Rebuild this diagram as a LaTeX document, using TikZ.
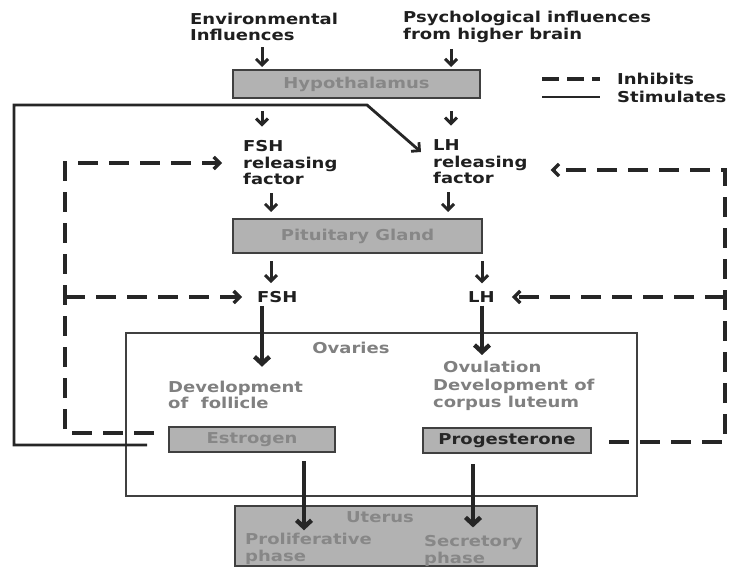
\documentclass[tikz,border=0pt]{standalone}
\usepackage{fontspec}
\setmainfont{DejaVu Sans}[FakeStretch=1.2]
\usetikzlibrary{arrows.meta}

\tikzset{
  lbl/.style={font=\fontsize{15bp}{16.5bp}\selectfont\bfseries, text=black!88,
    inner sep=0pt, align=left, anchor=west},
  pale/.style={lbl, text=black!50},
  organ/.style={draw=black!75, line width=2bp, fill=black!30, text=black!47,
    font=\fontsize{15bp}{16.5bp}\selectfont\bfseries, inner sep=0pt},
  arr/.style={draw=black!85, line width=3bp, -{Straight Barb[length=6bp,width=12bp]}},
  bigarr/.style={draw=black!85, line width=4.4bp, -{Straight Barb[length=7bp,width=15bp]}},
  stim/.style={draw=black!85, line width=2.8bp},
  inhibit/.style={draw=black!85, line width=3.4bp, dash pattern=on 20bp off 11bp},
  tip/.style={-{Straight Barb[length=6bp,width=12bp]}}
}

\begin{document}
\begin{tikzpicture}[x=1bp,y=-1bp]
    \useasboundingbox (0,0) rectangle (745,568);
    % колонки стрелок
    \coordinate (kA) at (262,0);
    \coordinate (kB) at (451,0);
    \coordinate (kC) at (271,0);
    \coordinate (kD) at (448,0);
    \coordinate (kE) at (482,0);
    \coordinate (kF) at (304,0);
    \coordinate (kG) at (473,0);

    % влияния
    \node[lbl] (env) at (190,27) {Environmental\\Influences};
    \node[lbl] (psy) at (403,27) {Psychological influences\\from higher brain};

    % гипоталамус
    \node[organ, minimum width=247bp, minimum height=28bp] (hyp) at (356.5,84) {Hypothalamus};

    % легенда
    \node[lbl] (inh) at (617,79) {Inhibits};
    \node[lbl] (stm) at (617,97) {Stimulates};
    \draw[inhibit, dash pattern=on 17bp off 8bp] ([xshift=-75]inh.west) -- ([xshift=-17]inh.west);
    \draw[stim] ([xshift=-75]stm.west) -- ([xshift=-17]stm.west);

    % рилизинг-факторы
    \node[lbl] (fshrf) at (243,163) {FSH\\releasing\\factor};
    \node[lbl] (lhrf) at (433,162) {LH\\releasing\\factor};

    % гипофиз
    \node[organ, minimum width=249bp, minimum height=34bp] (pit) at (357.5,236) {Pituitary Gland};
    \node[lbl] (fsh) at (257,297) {FSH};
    \node[lbl] (lh) at (468,297) {LH};

    % яичники
    \node[draw=black!75, line width=2bp, minimum width=511bp, minimum height=163bp] (ovr) at (381.5,414.5) {};
    \node[pale, anchor=center] (ovt) at (351,348) {Ovaries};
    \node[pale] (ovu) at (443,367) {Ovulation};
    \node[pale] (devf) at (168,395) {Development\\of\ \ follicle};
    \node[pale] (devc) at (433,395) {Development of\\corpus luteum};
    \node[organ, minimum width=166bp, minimum height=25bp] (est) at (252,439.5) {Estrogen};
    \node[organ, text=black!85, minimum width=168bp, minimum height=25bp] (prg) at (507,440.5) {Progesterone};

    % матка
    \node[organ, minimum width=302bp, minimum height=60bp] (ut) at (386,536) {};
    \node[lbl, text=black!47, anchor=center] (utt) at (380,517) {Uterus};
    \node[lbl, text=black!47] (prol) at (245,549) {Proliferative\\phase};
    \node[lbl, text=black!47] (sec) at (424,551) {Secretory\\phase};

    % стрелки вниз
    \draw[arr, shorten <=6bp, shorten >=2bp] (env.south -| kA) -- (hyp.north -| kA);
    \draw[arr, shorten <=6bp, shorten >=2bp] (psy.south -| kB) -- (hyp.north -| kB);
    \draw[arr, shorten <=12bp, shorten >=14bp] (hyp.south -| kA) -- (fshrf.north -| kA);
    \draw[arr, shorten <=12bp, shorten >=14bp] (hyp.south -| kB) -- (lhrf.north -| kB);
    \draw[arr, shorten <=8bp, shorten >=6bp] (fshrf.south -| kC) -- (pit.north -| kC);
    \draw[arr, shorten <=8bp, shorten >=6bp] (lhrf.south -| kD) -- (pit.north -| kD);
    \draw[arr, shorten <=7bp, shorten >=8bp] (pit.south -| kC) -- (fsh.north -| kC);
    \draw[arr, shorten <=7bp, shorten >=8bp] (pit.south -| kE) -- (lh.north -| kE);
    \draw[bigarr, shorten <=3bp, shorten >=14bp] (fsh.south -| kA) -- (devf.north -| kA);
    \draw[bigarr, shorten <=3bp, shorten >=6bp] (lh.south -| kE) -- (ovu.north -| kE);
    \draw[bigarr, shorten <=8bp, shorten >=3bp] (est.south -| kF) -- (prol.north -| kF);
    \draw[bigarr, shorten <=10bp, shorten >=8bp] (prg.south -| kG) -- (sec.north -| kG);

    % обратная связь: стимуляция
    \coordinate (sL) at (14,105);
    \coordinate (sK) at (367,105);
    \draw[stim, tip] ([shift={(-21,5.5)}]est.west) -| (sL) -- (sK) -- ([shift={(-12,-10)}]lhrf.west);

    % обратная связь: торможение
    \coordinate (dL) at (65,163);
    \coordinate (dR) at (725,170);
    \draw[inhibit, tip] ([shift={(-14,-6.5)}]est.west) -| (dL) -- ([xshift=-21]fshrf.west);
    \draw[inhibit, tip] (dL |- fsh.west) -- ([xshift=-15]fsh.west);
    \draw[inhibit, tip] ([shift={(17,1.5)}]prg.east) -| (dR) -- ([shift={(23,8)}]lhrf.east);
    \draw[inhibit, tip] (dR |- lh.east) -- ([xshift=17]lh.east);
\end{tikzpicture}
\end{document}
